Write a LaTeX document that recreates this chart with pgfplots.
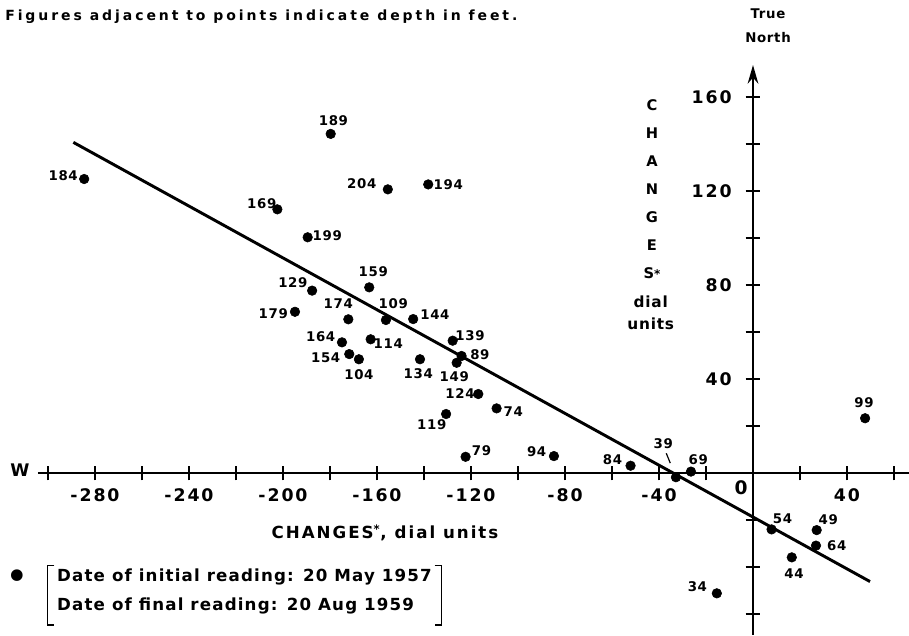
\documentclass[border=0pt]{standalone}
\usepackage{pgfplots}
\pgfplotsset{compat=1.18}
\usepackage{pgfplotstable}
\usepackage{fontspec}
\setmainfont{DejaVu Sans}[LetterSpace=5]
\newfontfamily\ttl{DejaVu Sans}[LetterSpace=21]
\newfontfamily\lgd{DejaVu Sans}[LetterSpace=7]
\newfontfamily\tck{DejaVu Sans}[LetterSpace=11]
\newfontfamily\xlb{DejaVu Sans}[LetterSpace=12]
\usetikzlibrary{arrows.meta}

\pgfplotstableread{
x y dx dy lab
-284.6 125.1 -21 3 184
-179.7 144.3 2.7 13.3 189
-202.4 112.2 -15.6 5.3 169
-155.4 120.7 -26 5.3 204
-138.2 122.8 20 0 194
-189.5 100.3 19.6 1.3 199
-163.3 79.0 4 15.6 159
-187.6 77.6 -19.3 8 129
-194.9 68.6 -21.7 -1.7 179
-172.2 65.4 -10 15.3 174
-156.2 65.1 7.3 16 109
-144.6 65.5 21.7 4 144
-174.9 55.6 -21.3 5.6 164
-162.7 56.9 17.6 -4 114
-171.8 50.6 -23.6 -3.3 154
-167.7 48.4 0 -15.7 104
-141.7 48.4 -1.7 -14.7 134
-127.8 56.3 17.3 4.7 139
-124.0 49.8 18.3 1 89
-126.1 46.9 -2.4 -14 149
-116.9 33.6 -18.3 0 124
-109.1 27.5 16.6 -3.4 74
-130.6 25.1 -14.3 -11 119
-122.3 6.9 16 6 79
-84.7 7.2 -17.3 4.3 94
-52.1 3.1 -18 5.7 84
-32.8 -1.8 -12.7 33.3 39
-26.4 0.6 7.3 12.4 69
7.9 -24.0 11 11 54
27.1 -24.3 11.6 10.7 49
26.8 -30.9 20.7 0 64
16.5 -35.9 2.3 -16 44
-15.4 -51.2 -19.4 6.7 34
47.7 23.3 -1 15.6 99
}\pts

\begin{document}
\begin{tikzpicture}
\useasboundingbox (-564.75pt,-121.5pt) rectangle (117pt,354.75pt);
\begin{axis}[
  at={(0,0)}, anchor=origin,
  x=1.7625pt, y=1.7625pt,
  xmin=-304.3, xmax=66.4, ymin=-68.9, ymax=173.6,
  axis lines=middle,
  axis line style={line width=1.8pt, black},
  x axis line style={-},
  y axis line style={-{Stealth[length=14pt,width=8pt]}},
  xtick={-300,-280,...,60},
  xticklabels={,{-280},,{-240},,{-200},,{-160},,{-120},,{-80},,{-40},,,,{40},},
  ytick={-60,-40,-20,20,40,60,80,100,120,140,160},
  yticklabels={,,,,40,,80,,120,,160},
  tick align=center,
  major tick length=11pt,
  tick style={line width=1.4pt, black},
  minor tick num=0,
  tick label style={font=\tck\bfseries\fontsize{13}{13}\selectfont},
  xticklabel style={yshift=-3pt},
  yticklabel style={xshift=-7pt},
  clip=false,
]
\addplot[line width=2.2pt, black] coordinates {(-289.2,140.7) (49.8,-46.2)};
\addplot[only marks, mark=*, mark size=3.6pt, black,
  point meta=explicit symbolic,
  nodes near coords,
  visualization depends on={0.75*\thisrow{dx} \as \lx},
  visualization depends on={0.75*\thisrow{dy} \as \ly},
  every node near coord/.append style={anchor=center, inner sep=0pt,
    xshift=\lx pt, yshift=\ly pt, font=\bfseries\fontsize{10}{10}\selectfont},
] table[x=x, y=y, meta=lab] {\pts};
\draw[line width=0.9pt] (axis cs:-36.9,8.4) -- (axis cs:-35.2,4.2);

\node[anchor=west, inner sep=0pt, font=\ttl\bfseries\fontsize{10.5}{11}\selectfont] at (axis cs:-318.3,194) {Figures adjacent to points indicate depth in feet.};
\node[inner sep=0pt, font=\bfseries\fontsize{10}{10}\selectfont] at (axis cs:6.4,195.3) {True};
\node[inner sep=0pt, font=\bfseries\fontsize{10}{10}\selectfont] at (axis cs:6.4,185.5) {North};
\node[inner sep=0pt, font=\bfseries\fontsize{13}{13}\selectfont] at (axis cs:-311.9,1.3) {W};
\node[inner sep=0pt, font=\bfseries\fontsize{14}{14}\selectfont] at (axis cs:-5.1,-6.4) {0};
\node[inner sep=0pt, font=\xlb\bfseries\fontsize{12.5}{12.5}\selectfont] at (axis cs:-156.6,-25.5) {CHANGES\textsuperscript{*}, dial units};
\node[anchor=north, inner sep=0pt, align=center, font=\bfseries\fontsize{11}{21}\selectfont] at (axis cs:-43,158.9) {C\\H\\A\\N\\G\\E\\S{\small*}};
\node[anchor=north, inner sep=0pt, align=center, font=\bfseries\fontsize{11.5}{16.5}\selectfont] at (axis cs:-43.5,75.7) {dial\\units};
\node[inner sep=0pt, font=\fontsize{30}{30}\selectfont] at (axis cs:-313.2,-45.5) {\textbullet};
\node[anchor=north west, inner sep=0pt, align=left, font=\lgd\bfseries\fontsize{12.5}{21.75}\selectfont] (lg) at (axis cs:-296.2,-40.5) {Date of initial reading: 20 May 1957\\Date of final reading: 20 Aug 1959};
\end{axis}
\draw[line width=1.3pt] ([shift={(-2pt,2pt)}]lg.north west) -- ++(-5pt,0) |- ([shift={(-2pt,-8pt)}]lg.south west);
\draw[line width=1.3pt] ([shift={(2pt,2pt)}]lg.north east) -- ++(5pt,0) |- ([shift={(2pt,-8pt)}]lg.south east);
\end{tikzpicture}
\end{document}
